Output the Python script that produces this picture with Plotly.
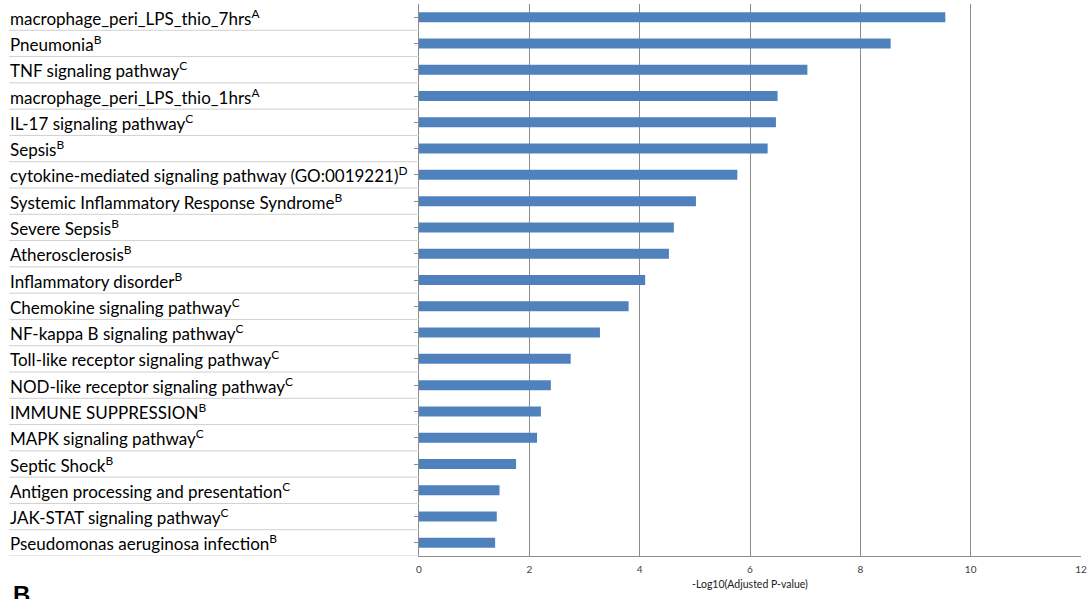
import plotly.graph_objects as go

categories = [
    "macrophage_peri_LPS_thio_7hrs<sup>A</sup>",
    "Pneumonia<sup>B</sup>",
    "TNF signaling pathway<sup>C</sup>",
    "macrophage_peri_LPS_thio_1hrs<sup>A</sup>",
    "IL-17 signaling pathway<sup>C</sup>",
    "Sepsis<sup>B</sup>",
    "cytokine-mediated signaling pathway (GO:0019221)<sup>D</sup>",
    "Systemic Inflammatory Response Syndrome<sup>B</sup>",
    "Severe Sepsis<sup>B</sup>",
    "Atherosclerosis<sup>B</sup>",
    "Inflammatory disorder<sup>B</sup>",
    "Chemokine signaling pathway<sup>C</sup>",
    "NF-kappa B signaling pathway<sup>C</sup>",
    "Toll-like receptor signaling pathway<sup>C</sup>",
    "NOD-like receptor signaling pathway<sup>C</sup>",
    "IMMUNE SUPPRESSION<sup>B</sup>",
    "MAPK signaling pathway<sup>C</sup>",
    "Septic Shock<sup>B</sup>",
    "Antigen processing and presentation<sup>C</sup>",
    "JAK-STAT signaling pathway<sup>C</sup>",
    "Pseudomonas aeruginosa infection<sup>B</sup>",
]
values = [9.54, 8.55, 7.04, 6.50, 6.47, 6.32, 5.77, 5.02, 4.62, 4.53, 4.10,
          3.80, 3.28, 2.75, 2.39, 2.21, 2.14, 1.76, 1.46, 1.41, 1.38]
x_ticks = [0, 2, 4, 6, 8, 10, 12]
x_title = "-Log10(Adjusted P-value)"
panel_label = "B"

W, H = 1091, 599
L, R, T, B = 419, 8, 4, 43
plot_w = W - L - R

fig = go.Figure()
fig.add_trace(go.Bar(
    x=values, y=list(range(len(categories))), orientation="h",
    marker=dict(color="#4F81BD", line=dict(width=0)),
    width=0.38, hoverinfo="x",
))

label_x = (7 - L) / plot_w
line_x0 = (8 - L) / plot_w

annotations = []
shapes = []
for i, cat in enumerate(categories):
    annotations.append(dict(
        x=label_x, xref="paper", y=i, yref="y", text=cat, showarrow=False,
        xanchor="left", yanchor="middle",
        font=dict(family="Lato, Open Sans, sans-serif", size=17, color="#000000"),
    ))
    shapes.append(dict(
        type="line", xref="paper", yref="y", x0=line_x0, x1=0,
        y0=i + 0.5, y1=i + 0.5, line=dict(color="#D0D0D0", width=1),
    ))

annotations.append(dict(
    x=(10 - L) / plot_w, xref="paper", y=-(594 - (H - B)) / (H - T - B), yref="paper",
    text="<b>" + panel_label + "</b>", showarrow=False, xanchor="left", yanchor="middle",
    font=dict(family="Liberation Sans, Arial, sans-serif", size=24, color="#000000"),
))

fig.update_layout(
    width=W, height=H,
    margin=dict(l=L, r=R, t=T, b=B, pad=0),
    paper_bgcolor="white", plot_bgcolor="white",
    showlegend=False,
    annotations=annotations, shapes=shapes,
    xaxis=dict(
        range=[0, 12], tickvals=x_ticks, ticktext=[str(t) for t in x_ticks],
        showgrid=True, gridcolor="#8C8C8C", gridwidth=1,
        zeroline=False, showline=True, linecolor="#8C8C8C", linewidth=1,
        ticks="", ticklabelstandoff=4,
        tickfont=dict(family="Lato, Open Sans, sans-serif", size=10, color="#404040"),
        title=dict(text=x_title, standoff=6,
                   font=dict(family="Lato, Open Sans, sans-serif", size=10.5, color="#202020")),
    ),
    yaxis=dict(
        range=[len(categories) - 0.5, -0.5],
        tickvals=list(range(len(categories))), showticklabels=False,
        tickson="boundaries", ticks="outside", ticklen=4, tickcolor="#8C8C8C",
        showgrid=False, zeroline=False, showline=True, linecolor="#8C8C8C", linewidth=1,
    ),
)

fig.write_html("out.html", config={"displayModeBar": False},
               post_script="document.body.style.margin='0px';")
